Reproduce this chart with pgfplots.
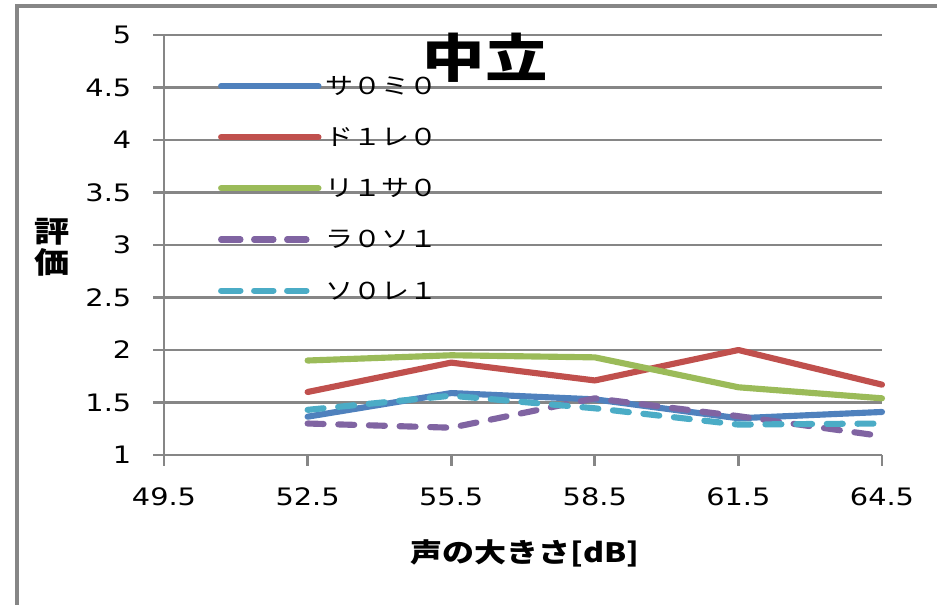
\documentclass[border=0pt]{standalone}
\usepackage{pgfplots}
\pgfplotsset{compat=1.18}
\usepackage{fontspec}
\setmainfont{DejaVu Sans}[FakeStretch=1.2]
\newfontfamily\jp{Noto Sans CJK JP}[FakeStretch=1.2]
\definecolor{gridc}{RGB}{134,134,134}
\definecolor{cblue}{RGB}{79,129,189}
\definecolor{cred}{RGB}{192,80,77}
\definecolor{cgreen}{RGB}{155,187,89}
\definecolor{cpurple}{RGB}{128,100,162}
\definecolor{ccyan}{RGB}{75,172,198}
\begin{document}
\begin{tikzpicture}
\begin{scope}[x=0.75pt,y=-0.75pt]
  \useasboundingbox (0,0) rectangle (937,604);
  \draw[gridc, line width=3pt] (17,700) -- (17,5.5) -- (1000,5.5);
\end{scope}
\begin{axis}[
  at={(123pt,-341.25pt)}, anchor=south west,
  scale only axis, width=538.5pt, height=315pt,
  xmin=49.5, xmax=64.5, ymin=1, ymax=5,
  xtick={49.5,52.5,55.5,58.5,61.5,64.5},
  xticklabels={49.5,52.5,55.5,58.5,61.5,64.5},
  ytick={1,1.5,2,2.5,3,3.5,4,4.5,5},
  yticklabels={1,1.5,2,2.5,3,3.5,4,4.5,5},
  axis x line*=bottom, axis y line*=left,
  axis line style={gridc, line width=2pt},
  tick style={gridc, line width=2pt},
  major tick length=8pt, tick align=outside,
  ymajorgrids, grid style={gridc, line width=2pt},
  tick label style={font=\fontsize{18}{20}\selectfont},
  yticklabel style={xshift=-13pt},
  xticklabel style={yshift=-13pt},
  /pgf/number format/assume math mode=true,
  legend cell align=left,
  legend style={draw=none, fill=none, at={(0.0749,0.635)}, anchor=west,
    inner sep=0pt, row sep=22.9pt, column sep=3pt,
    font=\jp\fontsize{17.5}{17.5}\selectfont,
    nodes={inner sep=0pt, text height=14pt, text depth=1.5pt}},
  legend image code/.code={\draw[#1] (0pt,0pt) -- (73pt,0pt);},
  clip=false,
  every axis plot/.append style={line width=4.6pt, line join=round, line cap=round},
]
\addplot[cblue] coordinates {(52.5,1.365)(55.5,1.59)(58.5,1.53)(61.5,1.35)(64.5,1.41)};
\addlegendentry{サ０ミ０}
\addplot[cred] coordinates {(52.5,1.60)(55.5,1.88)(58.5,1.71)(61.5,2.0)(64.5,1.67)};
\addlegendentry{ド１レ０}
\addplot[cgreen] coordinates {(52.5,1.90)(55.5,1.95)(58.5,1.93)(61.5,1.645)(64.5,1.54)};
\addlegendentry{リ１サ０}
\addplot[cpurple, dash pattern=on 12pt off 11pt, legend image post style={dash pattern=on 14.5pt off 10.25pt}] coordinates {(52.5,1.30)(55.5,1.26)(58.5,1.54)(61.5,1.37)(64.5,1.18)};
\addlegendentry{ラ０ソ１}
\addplot[ccyan, dash pattern=on 12pt off 11pt, legend image post style={dash pattern=on 14.5pt off 10.25pt}] coordinates {(52.5,1.43)(55.5,1.565)(58.5,1.445)(61.5,1.29)(64.5,1.30)};
\addlegendentry{ソ０レ１}
\end{axis}
\begin{scope}[x=0.75pt,y=-0.75pt]
  \node[font=\jp\bfseries\fontsize{39}{39}\selectfont] at (485,58) {中立};
  \node[font=\jp\bfseries\fontsize{20}{20}\selectfont] at (525,553) {声の大きさ[dB]};
  \node[font=\jp\bfseries\fontsize{22}{23}\selectfont, align=center] at (52,247.5) {評\\価};
\end{scope}
\end{tikzpicture}
\end{document}
